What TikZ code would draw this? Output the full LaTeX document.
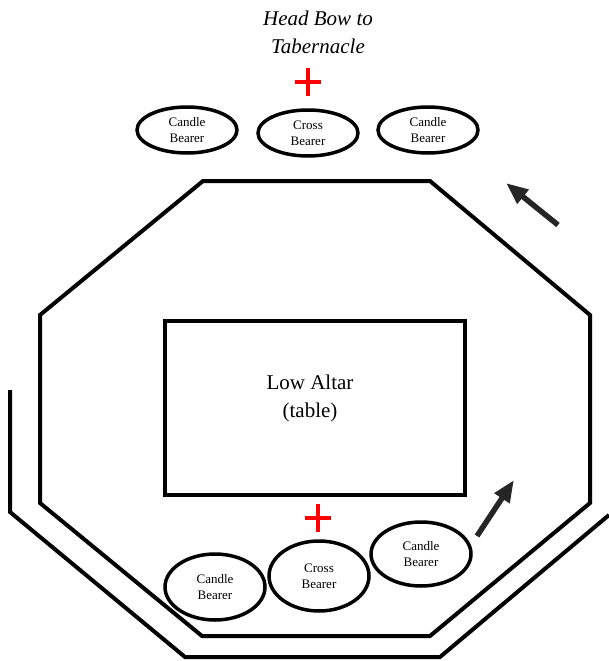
\documentclass[tikz,border=0pt]{standalone}
\usepackage{fontspec}
\setmainfont{Liberation Serif}
\usepackage{tikz}
\usetikzlibrary{calc}
\usetikzlibrary{positioning}
\usetikzlibrary{shapes.geometric}
\usetikzlibrary{arrows.meta}

\tikzset{
  wall/.style={black, line width=4pt, line join=miter},
  bearer/.style={ellipse, draw=black, line width=3.5pt, minimum width=100pt, minimum height=46pt, inner sep=0pt, align=center, font=\fontsize{13}{16}\selectfont},
  crossmark/.style={red, line width=4pt},
  walkarrow/.style={line width=5.5pt, black!85, -{Triangle[length=22pt,width=17pt]}}
}

\begin{document}
\begin{tikzpicture}[x=1pt,y=-1pt]
\useasboundingbox (0,0) rectangle (608,661);

% inner octagon
\coordinate (I1) at (203,181);
\coordinate (I2) at (430,181);
\coordinate (I3) at (590,315);
\coordinate (I4) at (590,503);
\coordinate (I5) at (430,636);
\coordinate (I6) at (202,636);
\coordinate (I7) at (40,503);
\coordinate (I8) at (40,315);
\draw[wall] (I1) -- (I2) -- (I3) -- (I4) -- (I5) -- (I6) -- (I7) -- (I8) -- cycle;

% outer path
\coordinate (O1) at (10,390);
\coordinate (O2) at (10,512);
\coordinate (O3) at (185,657);
\coordinate (O4) at (440,657);
\coordinate (O5) at (609,515);
\draw[wall] (O1) -- (O2) -- (O3) -- (O4) -- (O5);

% altar
\node[draw=black, line width=4pt, minimum width=300pt, minimum height=174pt] (altar) at (315,408) {};
\node[font=\fontsize{21}{28}\selectfont, align=center] (altarText) at (310,398) {Low Altar\\(table)};

% title
\node[font=\fontsize{21}{28}\selectfont\itshape, align=center] (title) at (318,32) {Head Bow to\\Tabernacle};

% bearers at the top
\node[bearer] (candleTL) at (187,130) {Candle\\Bearer};
\node[bearer] (crossT) at (308,133) {Cross\\Bearer};
\node[bearer] (candleTR) at (428,130) {Candle\\Bearer};

% bearers at the bottom
\node[bearer, minimum height=66pt] (candleBL) at (215,587) {Candle\\Bearer};
\node[bearer, minimum height=70pt] (crossB) at (319,576) {Cross\\Bearer};
\node[bearer, minimum height=64pt] (candleBR) at (421,554) {Candle\\Bearer};

% crosses
\coordinate (xT) at (308,82);
\coordinate (xB) at (318,518);
\foreach \point in {xT, xB}
{
\draw[crossmark] ($(\point)+(-13,0)$) -- ($(\point)+(13,0)$);
\draw[crossmark] ($(\point)+(0,-14)$) -- ($(\point)+(0,14)$);
}

% direction arrows
\coordinate (aB1) at (477,536);
\coordinate (aB2) at (514,480);
\coordinate (aT1) at (558,225);
\coordinate (aT2) at (506,183);
\draw[walkarrow] (aB1) -- (aB2);
\draw[walkarrow] (aT1) -- (aT2);

\end{tikzpicture}
\end{document}
